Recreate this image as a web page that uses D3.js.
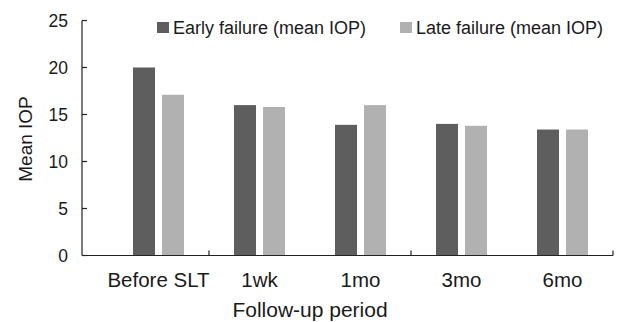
<!DOCTYPE html>
<html>
<head>
<meta charset="utf-8">
<script src="https://cdn.jsdelivr.net/npm/d3@7"></script>
<style>
  body { margin: 0; background: #fff; }
  text { font-family: "Liberation Sans", Arial, sans-serif; fill: #1a1a1a; }
</style>
</head>
<body>
<div id="wrapper"></div>
<script>
const periods = ["Before SLT", "1wk", "1mo", "3mo", "6mo"]
const seriesNames = ["Early failure (mean IOP)", "Late failure (mean IOP)"]
const earlyValues = [20.0, 16.0, 13.9, 14.0, 13.4]
const lateValues = [17.1, 15.8, 16.0, 13.8, 13.4]
const yTicks = [0, 5, 10, 15, 20, 25]

const colors = ["#5e5e5e", "#b1b1b1"]

const dataset = periods.map((p, i) => ({
  period: p,
  values: [earlyValues[i], lateValues[i]]
}))

const width = 617
const height = 322
const axisLeft = 82
const baseline = 255.5

const svg = d3.select("#wrapper")
  .append("svg")
    .attr("width", width)
    .attr("height", height)

const xScale = d3.scaleBand()
  .domain(periods)
  .range([108, 613])

const seriesScale = d3.scaleBand()
  .domain([0, 1])
  .range([0, xScale.bandwidth()])
  .paddingInner(0.241)
  .paddingOuter(0.862)

const yScale = d3.scaleLinear()
  .domain([0, 25])
  .range([baseline, 20.5])

// y axis
const yAxis = svg.append("g")
  .attr("transform", `translate(${axisLeft},0)`)
yAxis.append("line")
  .attr("y1", yScale(0))
  .attr("y2", yScale(25))
  .attr("stroke", "#222")
  .attr("stroke-width", 1.2)
yAxis.selectAll(".ytick")
  .data(yTicks)
  .enter().append("line")
    .attr("x1", 0)
    .attr("x2", 5)
    .attr("y1", d => yScale(d))
    .attr("y2", d => yScale(d))
    .attr("stroke", "#222")
    .attr("stroke-width", 1.2)
yAxis.selectAll(".ylabel")
  .data(yTicks)
  .enter().append("text")
    .attr("x", -14)
    .attr("y", d => yScale(d))
    .attr("dy", "0.36em")
    .attr("text-anchor", "end")
    .style("font-size", "17.5px")
    .text(d => d)

// bars
const groups = svg.selectAll(".group")
  .data(dataset)
  .enter().append("g")
    .attr("transform", d => `translate(${xScale(d.period)},0)`)

groups.selectAll("rect")
  .data(d => d.values)
  .enter().append("rect")
    .attr("x", (d, i) => seriesScale(i))
    .attr("width", seriesScale.bandwidth())
    .attr("y", d => yScale(d))
    .attr("height", d => yScale(0) - yScale(d))
    .attr("fill", (d, i) => colors[i])

// x axis
svg.append("line")
  .attr("x1", axisLeft)
  .attr("x2", xScale.range()[1])
  .attr("y1", baseline)
  .attr("y2", baseline)
  .attr("stroke", "#222")
  .attr("stroke-width", 1.2)

const xTickPositions = [xScale(periods[1]), xScale(periods[3]), xScale.range()[1]]
svg.selectAll(".xtick")
  .data(xTickPositions)
  .enter().append("line")
    .attr("x1", d => d)
    .attr("x2", d => d)
    .attr("y1", baseline)
    .attr("y2", baseline - 5)
    .attr("stroke", "#222")
    .attr("stroke-width", 1.2)

svg.selectAll(".xlabel")
  .data(periods)
  .enter().append("text")
    .attr("x", d => xScale(d) + xScale.bandwidth() / 2)
    .attr("y", 287)
    .attr("text-anchor", "middle")
    .style("font-size", "20.5px")
    .text(d => d)

// axis titles
svg.append("text")
  .attr("transform", `translate(32,139) rotate(-90)`)
  .attr("text-anchor", "middle")
  .style("font-size", "19px")
  .text("Mean IOP")

svg.append("text")
  .attr("x", 310)
  .attr("y", 317)
  .attr("text-anchor", "middle")
  .style("font-size", "21px")
  .text("Follow-up period")

// legend
const legendX = [157, 400]
const legend = svg.append("g")
legend.selectAll("rect")
  .data(seriesNames)
  .enter().append("rect")
    .attr("x", (d, i) => legendX[i])
    .attr("y", 22)
    .attr("width", 12)
    .attr("height", 11)
    .attr("fill", (d, i) => colors[i])
legend.selectAll("text")
  .data(seriesNames)
  .enter().append("text")
    .attr("x", (d, i) => legendX[i] + 16)
    .attr("y", 33.5)
    .style("font-size", "18px")
    .text(d => d)
</script>
</body>
</html>
